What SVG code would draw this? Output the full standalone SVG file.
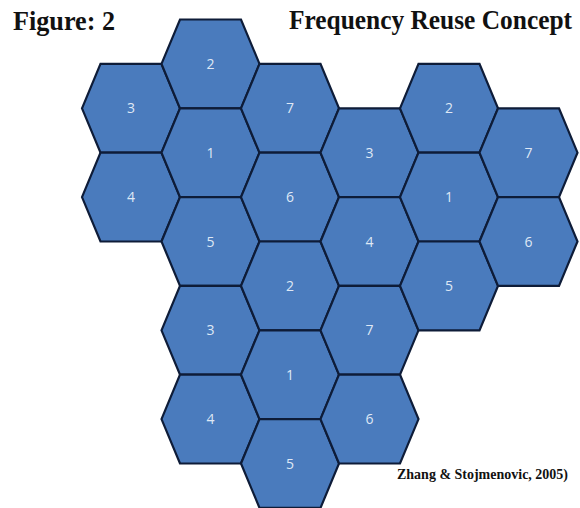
<svg xmlns="http://www.w3.org/2000/svg" xmlns:xlink="http://www.w3.org/1999/xlink" width="580" height="508" viewBox="0 0 580 508">
<style>
.hex{fill:#4a7bbd;stroke:#0e1c38;stroke-width:2.2;stroke-linejoin:miter}
.lbl{font-family:"Open Sans","Liberation Sans",sans-serif;font-size:14px;fill:#dfe8f5;text-anchor:middle}
.title{font-family:"Liberation Serif",serif;font-weight:bold;fill:#111}
</style>
<defs>
<polygon id="hx" points="-49,0 -30.5,-44.4 30.5,-44.4 49,0 30.5,44.4 -30.5,44.4"/>
</defs>
<rect width="580" height="508" fill="#fff"/>
<text class="title" x="13" y="30" font-size="28" textLength="102" lengthAdjust="spacingAndGlyphs">Figure: 2</text>
<text class="title" transform="translate(289,29) scale(1,1.12)" x="0" y="0" font-size="25" textLength="283" lengthAdjust="spacingAndGlyphs">Frequency Reuse Concept</text>
<g id="cells">
<g id="c0-3" transform="translate(131,108.3)"><use xlink:href="#hx" class="hex"/><text class="lbl" y="5">3</text></g>
<g id="c0-4" transform="translate(131,197.1)"><use xlink:href="#hx" class="hex"/><text class="lbl" y="5">4</text></g>
<g id="c1-2" transform="translate(210.5,63.9)"><use xlink:href="#hx" class="hex"/><text class="lbl" y="5">2</text></g>
<g id="c1-1" transform="translate(210.5,152.7)"><use xlink:href="#hx" class="hex"/><text class="lbl" y="5">1</text></g>
<g id="c1-5" transform="translate(210.5,241.5)"><use xlink:href="#hx" class="hex"/><text class="lbl" y="5">5</text></g>
<g id="c1-3" transform="translate(210.5,330.3)"><use xlink:href="#hx" class="hex"/><text class="lbl" y="5">3</text></g>
<g id="c1-4" transform="translate(210.5,419.1)"><use xlink:href="#hx" class="hex"/><text class="lbl" y="5">4</text></g>
<g id="c2-7" transform="translate(290,108.3)"><use xlink:href="#hx" class="hex"/><text class="lbl" y="5">7</text></g>
<g id="c2-6" transform="translate(290,197.1)"><use xlink:href="#hx" class="hex"/><text class="lbl" y="5">6</text></g>
<g id="c2-2" transform="translate(290,285.9)"><use xlink:href="#hx" class="hex"/><text class="lbl" y="5">2</text></g>
<g id="c2-1" transform="translate(290,374.7)"><use xlink:href="#hx" class="hex"/><text class="lbl" y="5">1</text></g>
<g id="c2-5" transform="translate(290,463.5)"><use xlink:href="#hx" class="hex"/><text class="lbl" y="5">5</text></g>
<g id="c3-3" transform="translate(369.5,152.7)"><use xlink:href="#hx" class="hex"/><text class="lbl" y="5">3</text></g>
<g id="c3-4" transform="translate(369.5,241.5)"><use xlink:href="#hx" class="hex"/><text class="lbl" y="5">4</text></g>
<g id="c3-7" transform="translate(369.5,330.3)"><use xlink:href="#hx" class="hex"/><text class="lbl" y="5">7</text></g>
<g id="c3-6" transform="translate(369.5,419.1)"><use xlink:href="#hx" class="hex"/><text class="lbl" y="5">6</text></g>
<g id="c4-2" transform="translate(449,108.3)"><use xlink:href="#hx" class="hex"/><text class="lbl" y="5">2</text></g>
<g id="c4-1" transform="translate(449,197.1)"><use xlink:href="#hx" class="hex"/><text class="lbl" y="5">1</text></g>
<g id="c4-5" transform="translate(449,285.9)"><use xlink:href="#hx" class="hex"/><text class="lbl" y="5">5</text></g>
<g id="c5-7" transform="translate(528.5,152.7)"><use xlink:href="#hx" class="hex"/><text class="lbl" y="5">7</text></g>
<g id="c5-6" transform="translate(528.5,241.5)"><use xlink:href="#hx" class="hex"/><text class="lbl" y="5">6</text></g>
</g>
<g id="connectors"/>
<text class="title" x="397" y="479" font-size="15" textLength="171" lengthAdjust="spacingAndGlyphs">Zhang &amp; Stojmenovic, 2005)</text>
</svg>
